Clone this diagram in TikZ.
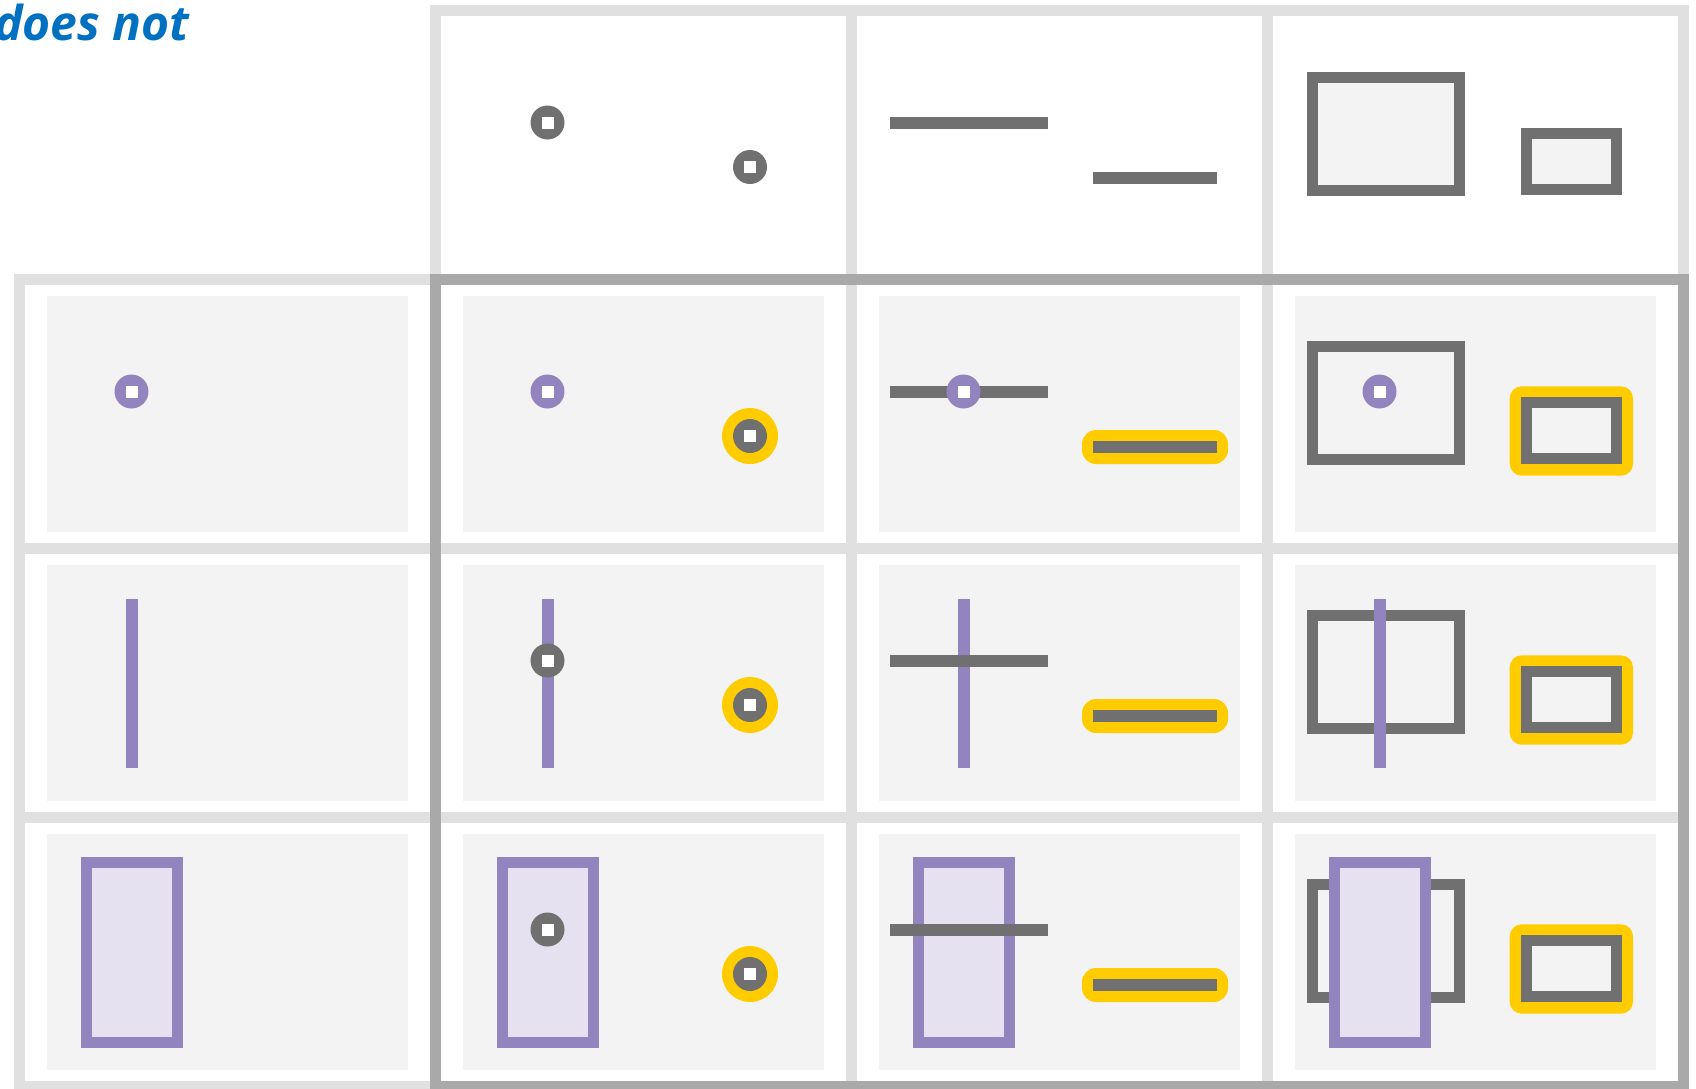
\documentclass[tikz,border=0pt]{standalone}
\usepackage{fontspec}
\newfontfamily\lblfont{Open Sans}
\definecolor{gridlt}{HTML}{E0E0E0}
\definecolor{griddk}{HTML}{A9A9A9}
\definecolor{panelc}{HTML}{F3F3F3}
\definecolor{shapegray}{HTML}{707070}
\definecolor{purp}{HTML}{9284BE}
\definecolor{lav}{HTML}{E5E1F0}
\definecolor{hl}{HTML}{FFCC00}
\definecolor{txtblue}{HTML}{0070C0}
\tikzset{
  ltline/.style={draw=gridlt, line width=5.5pt, line cap=rect},
  dkline/.style={draw=griddk, line width=5.5pt},
  gline/.style={draw=shapegray, line width=6pt},
  grect/.style={draw=shapegray, fill=panelc, line width=5.5pt},
  pline/.style={draw=purp, line width=6pt},
  prect/.style={draw=purp, fill=lav, line width=5.5pt},
}
\newcommand\DotMark[3]{\fill[#1] (#2,#3) circle (8.5pt); \fill[white] (#2,#3) +(-3pt,-3pt) rectangle +(3pt,3pt);}
\newcommand\GLineA{\draw[gline] (39,112.5) -- (197,112.5);}
\newcommand\GLineB{\draw[gline] (242,168) -- (366,168);}
\newcommand\GRectA{\draw[grect] (45.5,67.2) rectangle (192.2,180);}
\newcommand\GRectB{\draw[grect] (259.2,123.5) rectangle (349.5,179.8);}
\newcommand\PLineV{\draw[pline] (113,51) -- (113,220);}
\newcommand\PRectV{\draw[prect] (67.5,45.5) rectangle (158.2,225.2);}
\newcommand\PanelBg{\fill[panelc] (27.5,17) rectangle (388.5,253);}
\newcommand\HlPt{\fill[hl] (315,157) circle (14pt);}
\newcommand\HlLine{\fill[hl, rounded corners=7pt] (231,151) rectangle (377,185);}
\newcommand\HlRect{\fill[hl, rounded corners=6pt] (242.7,107.3) rectangle (366,196.7);}
\begin{document}
\begin{tikzpicture}[x=0.5pt, y=-0.5pt]
\useasboundingbox (0,0) rectangle (1696,1088);
\fill[white] (0,0) rectangle (1696,1088);
% title
\node[anchor=base east, inner sep=0pt, text=txtblue, font=\lblfont\bfseries\itshape\fontsize{24}{28}\selectfont] (title) at (190,40) {does not};
% header row
\begin{scope}[shift={(435,10)}]
  \DotMark{shapegray}{112.5}{112.5}
  \DotMark{shapegray}{315}{157}
\end{scope}
\begin{scope}[shift={(851,10)}]
  \GLineA \GLineB
\end{scope}
\begin{scope}[shift={(1267,10)}]
  \GRectA \GRectB
\end{scope}
% header column
\begin{scope}[shift={(19,279)}]
  \PanelBg \DotMark{purp}{112.5}{112.5}
\end{scope}
\begin{scope}[shift={(19,548)}]
  \PanelBg \PLineV
\end{scope}
\begin{scope}[shift={(19,817)}]
  \PanelBg \PRectV
\end{scope}
% row 1
\begin{scope}[shift={(435,279)}]
  \PanelBg \DotMark{purp}{112.5}{112.5} \HlPt \DotMark{shapegray}{315}{157}
\end{scope}
\begin{scope}[shift={(851,279)}]
  \PanelBg \GLineA \DotMark{purp}{112.5}{112.5} \HlLine \GLineB
\end{scope}
\begin{scope}[shift={(1267,279)}]
  \PanelBg \GRectA \DotMark{purp}{112.5}{112.5} \HlRect \GRectB
\end{scope}
% row 2
\begin{scope}[shift={(435,548)}]
  \PanelBg \PLineV \DotMark{shapegray}{112.5}{112.5} \HlPt \DotMark{shapegray}{315}{157}
\end{scope}
\begin{scope}[shift={(851,548)}]
  \PanelBg \PLineV \GLineA \HlLine \GLineB
\end{scope}
\begin{scope}[shift={(1267,548)}]
  \PanelBg \GRectA \PLineV \HlRect \GRectB
\end{scope}
% row 3
\begin{scope}[shift={(435,817)}]
  \PanelBg \PRectV \DotMark{shapegray}{112.5}{112.5} \HlPt \DotMark{shapegray}{315}{157}
\end{scope}
\begin{scope}[shift={(851,817)}]
  \PanelBg \PRectV \GLineA \HlLine \GLineB
\end{scope}
\begin{scope}[shift={(1267,817)}]
  \PanelBg \GRectA \PRectV \HlRect \GRectB
\end{scope}
% grid lines
\draw[ltline] (435,10) -- (1683,10);
\draw[ltline] (19,279) -- (435,279);
\draw[ltline] (19,548) -- (1683,548);
\draw[ltline] (19,817) -- (1683,817);
\draw[ltline] (19,1086) -- (435,1086);
\draw[ltline] (19,279) -- (19,1086);
\draw[ltline] (435,10) -- (435,279);
\draw[ltline] (851,10) -- (851,1086);
\draw[ltline] (1267,10) -- (1267,1086);
\draw[ltline] (1683,10) -- (1683,279);
\draw[dkline] (435,279) rectangle (1683,1086);
\end{tikzpicture}
\end{document}
